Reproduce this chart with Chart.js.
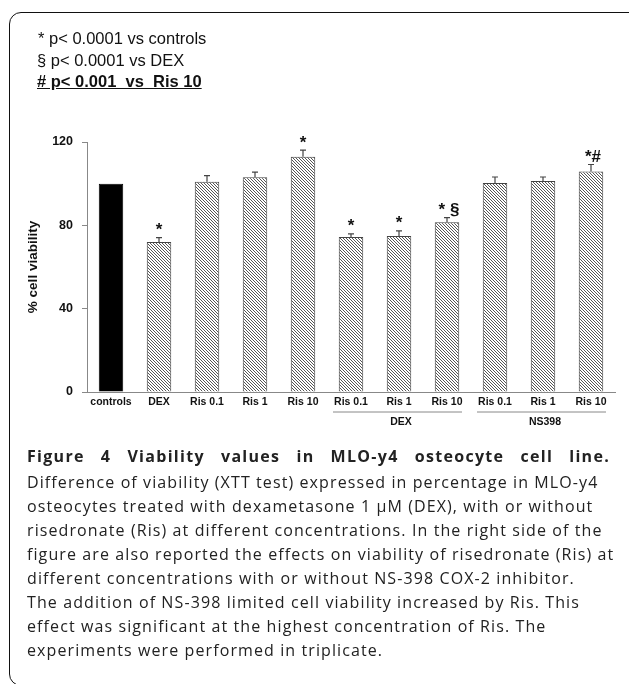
<!DOCTYPE html>
<html>
<head>
<meta charset="utf-8">
<script src="https://cdn.jsdelivr.net/npm/chart.js@4.4.0/dist/chart.umd.min.js"></script>
<style>
  html, body { margin:0; padding:0; background:#fff; }
  body { width:629px; height:684px; position:relative; overflow:hidden; }
  #box { position:absolute; left:9px; top:12px; width:640px; height:674px; border:1.5px solid #111; border-radius:12px; box-sizing:border-box; }
  #chartWrap { position:absolute; left:0; top:0; width:629px; height:684px; }
  .leg { position:absolute; left:37px; font-family:"Liberation Sans", Arial, sans-serif; font-size:16.5px; color:#111; white-space:pre; line-height:18px; }
  .cap { position:absolute; left:27px; font-family:"Open Sans", sans-serif; font-size:16px; letter-spacing:1.1px; color:#222; white-space:nowrap; line-height:24px; }
  #title { font-weight:bold; width:583px; letter-spacing:1.3px; text-align:justify; text-align-last:justify; white-space:normal; }
</style>
</head>
<body>
<div id="box"></div>
<div id="chartWrap"><canvas id="c"></canvas></div>
<div class="leg" style="top:29px;left:38px;">* p&lt; 0.0001 vs controls</div>
<div class="leg" style="top:51px;">§ p&lt; 0.0001 vs DEX</div>
<div class="leg" style="top:72px;font-weight:bold;text-decoration:underline;"># p&lt; 0.001  vs  Ris 10</div>
<div class="cap" id="title" style="top:444px;">Figure 4 Viability values in MLO-y4 osteocyte cell line.</div>
<div class="cap" style="top:470px;">Difference of viability (XTT test) expressed in percentage in MLO-y4</div>
<div class="cap" style="top:494px;">osteocytes treated with dexametasone 1 µM (DEX), with or without</div>
<div class="cap" style="top:518px;">risedronate (Ris) at different concentrations. In the right side of the</div>
<div class="cap" style="top:542px;">figure are also reported the effects on viability of risedronate (Ris) at</div>
<div class="cap" style="top:566px;">different concentrations with or without NS-398 COX-2 inhibitor.</div>
<div class="cap" style="top:590px;">The addition of NS-398 limited cell viability increased by Ris. This</div>
<div class="cap" style="top:614px;">effect was significant at the highest concentration of Ris. The</div>
<div class="cap" style="top:638px;">experiments were performed in triplicate.</div>
<script>
const categories = ["controls","DEX","Ris 0.1","Ris 1","Ris 10","Ris 0.1","Ris 1","Ris 10","Ris 0.1","Ris 1","Ris 10"];
const viability = [100, 72.0, 100.9, 103.1, 112.9, 74.4, 74.9, 81.5, 100.3, 101.3, 105.8];
const errors = [0, 2.1, 3.0, 2.4, 3.2, 1.5, 2.4, 2.2, 2.9, 1.9, 3.4];
const marks = ["", "*", "", "", "*", "*", "*", "* §", "", "", "*#"];
const groups = [{label:"DEX", from:5, to:7}, {label:"NS398", from:8, to:10}];
const yTicks = [0, 40, 80, 120];

function hatch() {
  const s = 3;
  const cv = document.createElement('canvas');
  cv.width = s; cv.height = s;
  const g = cv.getContext('2d');
  g.fillStyle = '#fff'; g.fillRect(0,0,s,s);
  g.strokeStyle = '#555'; g.lineWidth = 1;
  g.beginPath();
  g.moveTo(-1,-1); g.lineTo(s+1,s+1);
  g.moveTo(-1,s-1); g.lineTo(1,s+1);
  g.moveTo(s-1,-1); g.lineTo(s+1,1);
  g.stroke();
  return document.getElementById('c').getContext('2d').createPattern(cv,'repeat');
}
const pat = hatch();
const fills = categories.map((c,i)=> i===0 ? '#000' : pat);
const borders = categories.map((c,i)=> i===0 ? '#000' : '#444');

const extras = {
  id:'extras',
  afterDatasetsDraw(chart) {
    const ctx = chart.ctx, x = chart.scales.x, y = chart.scales.y;
    ctx.save();
    ctx.strokeStyle = '#444'; ctx.lineWidth = 1.2;
    viability.forEach((v,i)=>{
      if (!errors[i]) return;
      const cx = x.getPixelForValue(i);
      const y0 = y.getPixelForValue(v), y1 = y.getPixelForValue(v+errors[i]);
      ctx.beginPath(); ctx.moveTo(cx,y0); ctx.lineTo(cx,y1);
      ctx.moveTo(cx-3,y1); ctx.lineTo(cx+3,y1); ctx.stroke();
    });
    ctx.fillStyle = '#111';
    ctx.font = 'bold 17px "Liberation Sans", Arial, sans-serif';
    ctx.textAlign = 'center'; ctx.textBaseline = 'alphabetic';
    marks.forEach((m,i)=>{
      if (!m) return;
      const cx = x.getPixelForValue(i);
      const yt = y.getPixelForValue(viability[i]+errors[i]);
      ctx.fillText(m, cx + (m.length>1 ? 2 : 0), yt - 2.5);
    });
    ctx.strokeStyle = '#888'; ctx.lineWidth = 1;
    ctx.font = 'bold 10.5px "Liberation Sans", Arial, sans-serif';
    ctx.textBaseline = 'middle';
    const base = y.getPixelForValue(0);
    groups.forEach(g=>{
      const a = x.getPixelForValue(g.from) - 18, b = x.getPixelForValue(g.to) + 15;
      ctx.beginPath(); ctx.moveTo(a, base+20); ctx.lineTo(b, base+20); ctx.stroke();
      ctx.fillText(g.label, (x.getPixelForValue(g.from)+x.getPixelForValue(g.to))/2 + 2, base+30);
    });
    ctx.restore();
  }
};

new Chart(document.getElementById('c'), {
  type:'bar',
  data:{ labels:categories, datasets:[{ data:viability, backgroundColor:fills, borderColor:borders, borderWidth:1, barPercentage:0.51, categoryPercentage:1 }]},
  options:{
    responsive:true, maintainAspectRatio:false, animation:false,
    layout:{ padding:{ left:0, right:14, top:142, bottom:262 } },
    plugins:{ legend:{display:false}, tooltip:{enabled:false} },
    scales:{
      x:{
        grid:{ display:true, drawOnChartArea:false, drawTicks:false },
        border:{ display:true, color:'#888', width:1 },
        ticks:{ padding:4, color:'#111', font:{ family:'"Liberation Sans", Arial, sans-serif', size:10.5, weight:'bold' }, maxRotation:0, autoSkip:false },
        afterFit(s){ s.height = 30; }
      },
      y:{
        min:0, max:120,
        afterBuildTicks(s){ s.ticks = yTicks.map(v=>({value:v})); },
        grid:{ display:true, drawOnChartArea:false, drawTicks:true, tickLength:5, color:'#888' },
        border:{ display:true, color:'#888', width:1 },
        ticks:{ padding:9, color:'#111', font:{ family:'"Liberation Sans", Arial, sans-serif', size:12.5, weight:'bold' } },
        title:{ display:true, text:'% cell viability', color:'#111', padding:{top:25,bottom:0}, font:{ family:'"Liberation Sans", Arial, sans-serif', size:13.5, weight:'bold' } },
        afterFit(s){ s.width = 87; }
      }
    }
  },
  plugins:[extras]
});
</script>
</body>
</html>
